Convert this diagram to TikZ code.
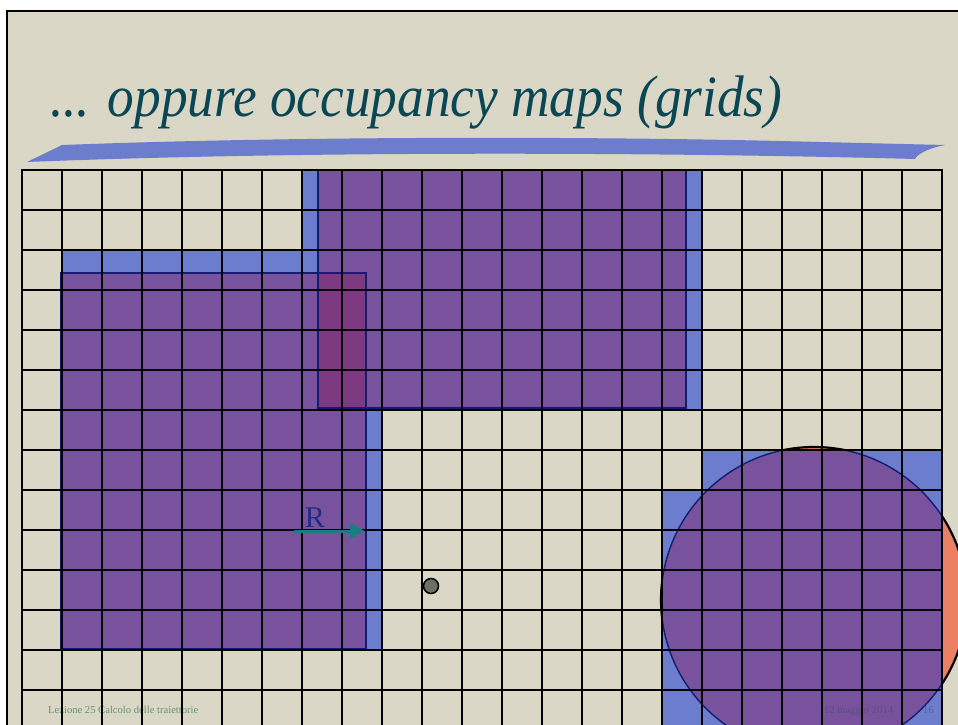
\documentclass[tikz,border=0pt]{standalone}
\usepackage{fontspec}
\setmainfont{Liberation Serif}
\usetikzlibrary{arrows.meta}
\definecolor{beige}{RGB}{219,215,198}
\definecolor{cellblue}{RGB}{108,125,205}
\definecolor{obspurple}{RGB}{120,82,156}
\definecolor{obsmagenta}{RGB}{126,58,128}
\definecolor{salmon}{RGB}{236,128,100}
\definecolor{navyline}{RGB}{18,28,112}
\definecolor{titleteal}{RGB}{10,70,84}
\definecolor{footgreen}{RGB}{100,148,118}
\definecolor{footgray}{RGB}{70,80,110}
\definecolor{rnavy}{RGB}{28,45,135}
\definecolor{arrowteal}{RGB}{25,125,130}
\definecolor{dotgray}{RGB}{110,110,105}
\tikzset{
  gridline/.style={line width=2.7pt, black, line cap=rect},
  obsline/.style={draw=navyline, line width=1.4pt},
  foottext/.style={font=\fontsize{10.6}{12}\selectfont, inner sep=0pt, anchor=base west},
}
\begin{document}
\begin{tikzpicture}[x=1pt,y=-1pt]
\useasboundingbox (0,0) rectangle (958,725);
\clip (0,0) rectangle (958,725);
% slide background
\fill[white] (0,0) rectangle (958,725);
\fill[beige] (7,11) rectangle (958,725);
\draw[line width=2pt] (7,725) -- (7,11) -- (958,11);
% title
\node[font=\itshape\fontsize{53.3}{60}\selectfont, text=titleteal, anchor=base west, inner sep=0pt] (title) at (50,116) {\scalebox{1}[1.1]{... oppure occupancy maps (grids)}};
% swoosh
\fill[cellblue] (27,162) -- (62,145) .. controls (300,136) and (600,136) .. (820,142) -- (945,145)
  .. controls (930,148) and (918,153) .. (915,159)
  .. controls (650,152) and (300,151) .. (27,162) -- cycle;
% footer left (behind grid)
\node[foottext, text=footgreen] (footL) at (48,713) {Lezione 25 Calcolo delle traiettorie};
% circular obstacle (outside occupied cells)
\fill[salmon] (814,600) circle[radius=152pt];
\draw[line width=2.2pt, black] (814,600) circle[radius=153pt];
% occupied cells
\fill[cellblue] (302,170) -- (702,170) -- (702,410) -- (382,410) -- (382,650) -- (62,650) -- (62,250) -- (302,250) -- cycle;
\fill[cellblue] (702,450) -- (942,450) -- (942,730) -- (662,730) -- (662,490) -- (702,490) -- cycle;
% rectangular obstacles
\fill[obspurple] (318,170) rectangle (686,408);
\fill[obspurple] (61,273) rectangle (366,649);
\fill[obsmagenta] (318,273) rectangle (366,408);
\draw[obsline] (318,170) rectangle (686,408);
\draw[obsline] (61,273) rectangle (366,649);
% circle inside occupied cells
\begin{scope}
  \clip (702,450) -- (942,450) -- (942,730) -- (662,730) -- (662,490) -- (702,490) -- cycle;
  \fill[obspurple] (814,600) circle[radius=153pt];
  \draw[obsline] (814,600) circle[radius=153pt];
\end{scope}
% footer right (faint, behind grid)
\node[foottext, text=footgray, text opacity=0.6] (footD) at (824,713) {12 maggio 2014};
\node[foottext, text=footgray, text opacity=0.6] (footN) at (923,713) {16};
% grid
\foreach \i in {0,...,23} \draw[gridline] ({22+40*\i},170) -- ({22+40*\i},730);
\foreach \j in {0,...,14} \draw[gridline] (22,{170+40*\j}) -- (942,{170+40*\j});
% robot radius
\coordinate (rs) at (294,531);
\coordinate (re) at (365,531);
\draw[arrowteal, line width=3pt, -{Triangle[length=15pt,width=15pt]}] (rs) -- (re);
\node[font=\fontsize{30}{34}\selectfont, text=rnavy, anchor=base, inner sep=0pt] (rlabel) at (315,527) {R};
% robot
\node[circle, fill=dotgray, draw=black, line width=1.5pt, minimum size=15pt, inner sep=0pt] (dot) at (431,586) {};
\end{tikzpicture}
\end{document}
